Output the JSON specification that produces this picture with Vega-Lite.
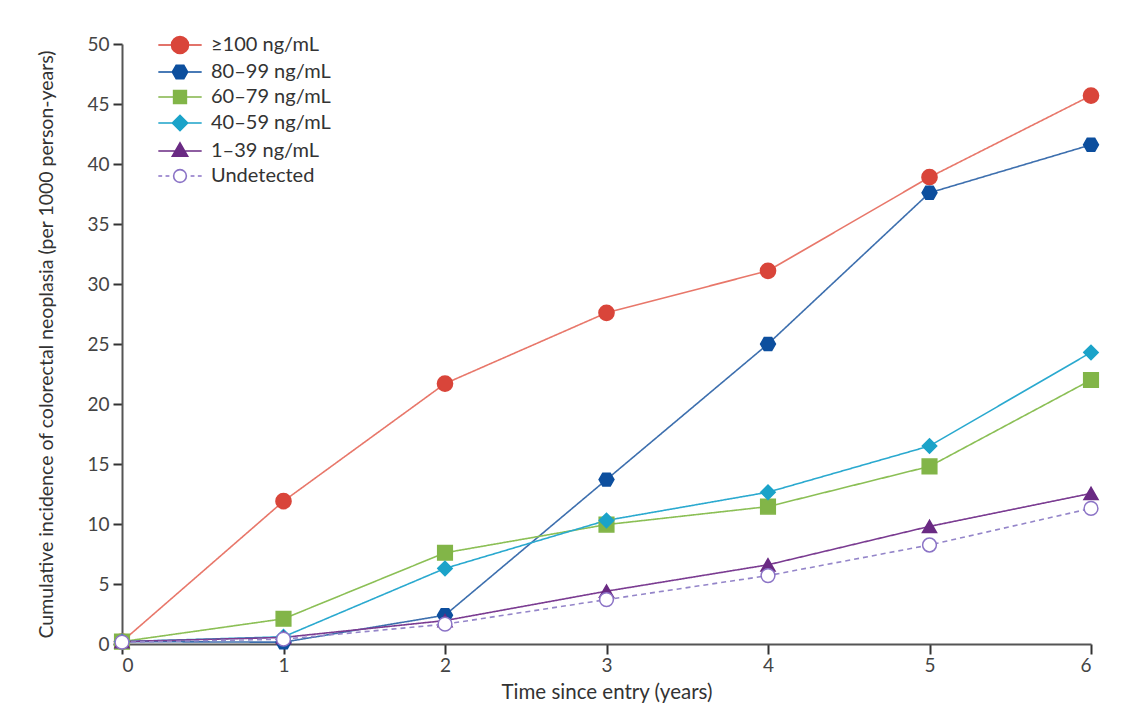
{
  "$schema": "https://vega.github.io/schema/vega-lite/v6.json",
  "autosize": "none",
  "width": 969,
  "height": 600,
  "padding": {"left": 122, "top": 44, "right": 33, "bottom": 82},
  "background": "white",
  "config": {
    "view": {"stroke": null},
    "font": "Lato",
    "axis": {
      "grid": false,
      "domainColor": "#555555",
      "domainWidth": 2,
      "tickColor": "#333333",
      "tickWidth": 2,
      "labelFont": "Lato",
      "labelFontSize": 19,
      "labelColor": "#444444",
      "titleFont": "Lato",
      "titleFontWeight": "normal",
      "titleColor": "#333333"
    }
  },
  "data": {
    "values": [
      {"group": "≥100 ng/mL", "order": 1, "year": 0, "value": 0.2},
      {"group": "≥100 ng/mL", "order": 1, "year": 1, "value": 11.9},
      {"group": "≥100 ng/mL", "order": 1, "year": 2, "value": 21.7},
      {"group": "≥100 ng/mL", "order": 1, "year": 3, "value": 27.6},
      {"group": "≥100 ng/mL", "order": 1, "year": 4, "value": 31.1},
      {"group": "≥100 ng/mL", "order": 1, "year": 5, "value": 38.9},
      {"group": "≥100 ng/mL", "order": 1, "year": 6, "value": 45.7},
      {"group": "80–99 ng/mL", "order": 2, "year": 0, "value": 0.2},
      {"group": "80–99 ng/mL", "order": 2, "year": 1, "value": 0.15},
      {"group": "80–99 ng/mL", "order": 2, "year": 2, "value": 2.4},
      {"group": "80–99 ng/mL", "order": 2, "year": 3, "value": 13.7},
      {"group": "80–99 ng/mL", "order": 2, "year": 4, "value": 25.0},
      {"group": "80–99 ng/mL", "order": 2, "year": 5, "value": 37.6},
      {"group": "80–99 ng/mL", "order": 2, "year": 6, "value": 41.6},
      {"group": "60–79 ng/mL", "order": 3, "year": 0, "value": 0.2},
      {"group": "60–79 ng/mL", "order": 3, "year": 1, "value": 2.1},
      {"group": "60–79 ng/mL", "order": 3, "year": 2, "value": 7.6},
      {"group": "60–79 ng/mL", "order": 3, "year": 3, "value": 9.95},
      {"group": "60–79 ng/mL", "order": 3, "year": 4, "value": 11.45},
      {"group": "60–79 ng/mL", "order": 3, "year": 5, "value": 14.8},
      {"group": "60–79 ng/mL", "order": 3, "year": 6, "value": 22.0},
      {"group": "40–59 ng/mL", "order": 4, "year": 0, "value": 0.2},
      {"group": "40–59 ng/mL", "order": 4, "year": 1, "value": 0.6},
      {"group": "40–59 ng/mL", "order": 4, "year": 2, "value": 6.3},
      {"group": "40–59 ng/mL", "order": 4, "year": 3, "value": 10.3},
      {"group": "40–59 ng/mL", "order": 4, "year": 4, "value": 12.65},
      {"group": "40–59 ng/mL", "order": 4, "year": 5, "value": 16.5},
      {"group": "40–59 ng/mL", "order": 4, "year": 6, "value": 24.3},
      {"group": "1–39 ng/mL", "order": 5, "year": 0, "value": 0.2},
      {"group": "1–39 ng/mL", "order": 5, "year": 1, "value": 0.55},
      {"group": "1–39 ng/mL", "order": 5, "year": 2, "value": 1.95},
      {"group": "1–39 ng/mL", "order": 5, "year": 3, "value": 4.4},
      {"group": "1–39 ng/mL", "order": 5, "year": 4, "value": 6.6},
      {"group": "1–39 ng/mL", "order": 5, "year": 5, "value": 9.8},
      {"group": "1–39 ng/mL", "order": 5, "year": 6, "value": 12.55},
      {"group": "Undetected", "order": 6, "year": 0, "value": 0.15},
      {"group": "Undetected", "order": 6, "year": 1, "value": 0.4},
      {"group": "Undetected", "order": 6, "year": 2, "value": 1.65},
      {"group": "Undetected", "order": 6, "year": 3, "value": 3.7},
      {"group": "Undetected", "order": 6, "year": 4, "value": 5.7},
      {"group": "Undetected", "order": 6, "year": 5, "value": 8.25},
      {"group": "Undetected", "order": 6, "year": 6, "value": 11.3}
    ]
  },
  "encoding": {
    "x": {
      "field": "year",
      "type": "quantitative",
      "scale": {"domain": [0, 6], "nice": false, "zero": false},
      "axis": {
        "values": [0, 1, 2, 3, 4, 5, 6],
        "format": "d",
        "tickSize": 10,
        "labelPadding": 2,
        "title": "Time since entry (years)",
        "titleFontSize": 20.5,
        "titlePadding": 7
      }
    },
    "y": {
      "field": "value",
      "type": "quantitative",
      "scale": {"domain": [0, 50], "nice": false},
      "axis": {
        "values": [0, 5, 10, 15, 20, 25, 30, 35, 40, 45, 50],
        "tickSize": 9,
        "labelPadding": 4,
        "title": "Cumulative incidence of colorectal neoplasia (per 1000 person-years)",
        "titleFontSize": 19.5,
        "titlePadding": 30
      }
    }
  },
  "resolve": {"scale": {"shape": "independent", "fill": "independent", "stroke": "independent"}},
  "layer": [
    {
      "mark": {"type": "line", "strokeWidth": 1.6},
      "encoding": {
        "color": {
          "field": "group",
          "type": "nominal",
          "sort": {"field": "order", "op": "min"},
          "scale": {"range": ["#e8776a", "#3d6fae", "#8bbf55", "#2aa9cf", "#7a3b91", "#9485c9"]},
          "legend": null
        },
        "strokeDash": {
          "field": "group",
          "type": "nominal",
          "sort": {"field": "order", "op": "min"},
          "scale": {"range": [[1, 0], [1, 0], [1, 0], [1, 0], [1, 0], [5, 4]]},
          "legend": null
        }
      }
    },
    {
      "mark": {"type": "point", "filled": true, "opacity": 1, "strokeWidth": 1.5},
      "encoding": {
        "shape": {
          "field": "group",
          "type": "nominal",
          "sort": {"field": "order", "op": "min"},
          "scale": {"range": ["circle", "M-1,0L-0.5,-0.866L0.5,-0.866L1,0L0.5,0.866L-0.5,0.866Z", "square", "diamond", "triangle-up", "circle"]},
          "legend": null
        },
        "fill": {
          "field": "group",
          "type": "nominal",
          "sort": {"field": "order", "op": "min"},
          "scale": {"range": ["#d9453a", "#0d4f9e", "#82b548", "#1ba3c9", "#6a2a83", "#ffffff"]},
          "legend": null
        },
        "stroke": {
          "field": "group",
          "type": "nominal",
          "sort": {"field": "order", "op": "min"},
          "scale": {"range": ["#d9453a", "#0d4f9e", "#82b548", "#1ba3c9", "#6a2a83", "#8b73c6"]},
          "legend": null
        },
        "size": {
          "field": "group",
          "type": "nominal",
          "sort": {"field": "order", "op": "min"},
          "scale": {"range": [230, 190, 160, 190, 170, 140]},
          "legend": null
        }
      }
    },
    {
      "mark": {"type": "point", "filled": true, "opacity": 0, "strokeWidth": 1.5},
      "encoding": {
        "shape": {
          "field": "group",
          "type": "nominal",
          "sort": {"field": "order", "op": "min"},
          "scale": {"range": [
            "M-2.55,0H-1M1,0H2.55M1,0A1,1,0,1,1,-1,0A1,1,0,1,1,1,0Z",
            "M-2.55,0H-0.9M0.9,0H2.55M-0.9,0L-0.45,-0.78L0.45,-0.78L0.9,0L0.45,0.78L-0.45,0.78Z",
            "M-2.55,0H-0.75M0.75,0H2.55M-0.75,-0.75H0.75V0.75H-0.75Z",
            "M-2.55,0H-0.9M0.9,0H2.55M-0.9,0L0,-0.9L0.9,0L0,0.9Z",
            "M-2.55,0H-0.55M0.55,0H2.55M0,-0.95L0.9,0.6L-0.9,0.6Z",
            "M-2.55,0H-2.1M-1.7,0H-1.25M1.25,0H1.7M2.1,0H2.55M0.75,0A0.75,0.75,0,1,1,-0.75,0A0.75,0.75,0,1,1,0.75,0Z"
          ]},
          "legend": {
            "title": null,
            "orient": "none",
            "legendX": 48,
            "legendY": -9,
            "symbolSize": 289,
            "symbolStrokeWidth": 1.6,
            "symbolOpacity": 1,
            "labelFont": "Lato",
            "labelFontSize": 20,
            "labelColor": "#333333",
            "labelOffset": 21,
            "rowPadding": 5,
            "padding": 0
          }
        },
        "fill": {
          "field": "group",
          "type": "nominal",
          "sort": {"field": "order", "op": "min"},
          "scale": {"range": ["#d9453a", "#0d4f9e", "#82b548", "#1ba3c9", "#6a2a83", "#ffffff"]},
          "legend": {"title": null, "orient": "none", "legendX": 48, "legendY": -9}
        },
        "stroke": {
          "field": "group",
          "type": "nominal",
          "sort": {"field": "order", "op": "min"},
          "scale": {"range": ["#d9453a", "#0d4f9e", "#82b548", "#1ba3c9", "#6a2a83", "#8b73c6"]},
          "legend": {"title": null, "orient": "none", "legendX": 48, "legendY": -9}
        }
      }
    }
  ]
}
